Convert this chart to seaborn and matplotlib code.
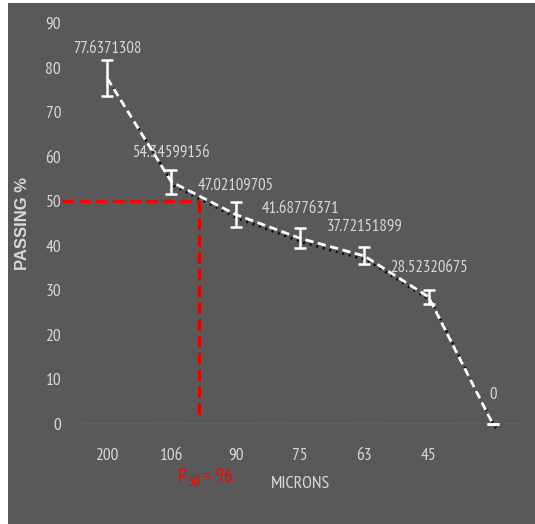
import matplotlib
matplotlib.use("Agg")
import matplotlib.pyplot as plt
import matplotlib.transforms as mtransforms
from matplotlib import font_manager
import seaborn as sns
import pandas as pd

# Sieve analysis: cumulative passing per screen size
sizes = ["200", "106", "90", "75", "63", "45", ""]
passing = [77.6371308, 54.34599156, 47.02109705, 41.68776371, 37.72151899, 28.52320675, 0.0]
errors = [4.0, 2.7, 2.7, 2.2, 1.9, 1.6, 0.0]
value_labels = ["77.6371308", "54.34599156", "47.02109705", "41.68776371",
                "37.72151899", "28.52320675", "0"]
p50_value = 96
p50_level = 50
p50_pos = 1.435  # position of the P50 size along the categorical size axis
y_ticks = [0, 10, 20, 30, 40, 50, 60, 70, 80, 90]

df = pd.DataFrame({"pos": range(len(sizes)), "passing": passing})

sns.set_theme(style="dark")
installed = {f.name for f in font_manager.fontManager.ttflist}
narrow_candidates = ["Liberation Sans Narrow", "Arial Narrow", "PT Sans Narrow",
                     "Roboto Condensed", "Archivo Narrow", "Fira Sans Condensed",
                     "IBM Plex Sans Condensed", "Encode Sans Condensed",
                     "Sofia Sans Condensed", "Open Sans Condensed", "Carlito"]
narrow = next((n for n in narrow_candidates if n in installed), "DejaVu Sans")
wide = "Liberation Sans" if "Liberation Sans" in installed else "DejaVu Sans"
plt.rcParams["font.family"] = [narrow, "DejaVu Sans"]

BG = "#595959"
TXT = "#d9d9d9"
RED = "#ff0000"

fig = plt.figure(figsize=(5.35, 5.24), dpi=100, facecolor="white")
# dark panel with a thin white margin on the left and top
fig.patches.append(plt.Rectangle((8 / 535, 0), 1, 1 - 3 / 524, transform=fig.transFigure,
                                 facecolor=BG, edgecolor="none", zorder=-5))
ax = fig.add_axes([75 / 535, 1 - 424 / 524, 450 / 535, 401 / 524])
ax.set_facecolor(BG)
for s in ax.spines.values():
    s.set_visible(False)

# dotted trend shadow
shadow = mtransforms.offset_copy(ax.transData, fig=fig, x=2.0, y=-3.0, units="points")
ax.plot(df["pos"], df["passing"], color="black", linestyle=(0, (0.7, 2.0)),
        linewidth=1.8, transform=shadow, zorder=2, clip_on=False)

# main dashed curve
sns.lineplot(data=df, x="pos", y="passing", ax=ax, color="white", linewidth=2.0,
             zorder=3, clip_on=False)
ax.lines[-1].set_dashes((3.0, 1.6))

ax.errorbar(df["pos"], df["passing"], yerr=errors, fmt="none", ecolor="white",
            elinewidth=1.8, capsize=4, capthick=1.8, zorder=4, clip_on=False)

# zero baseline
ax.axhline(0, color="#c8c8c8", linestyle=(0, (1, 2)), linewidth=1.0, zorder=1)

# P50 guide lines
red_dash = (0, (3.8, 1.7))
ax.plot([-0.70, p50_pos], [p50_level, p50_level], color=RED, linewidth=2.2,
        linestyle=red_dash, clip_on=False, zorder=2)
ax.plot([p50_pos, p50_pos], [p50_level, 2], color="#e00000", linewidth=2.2,
        linestyle=red_dash, clip_on=False, zorder=2)

# P50 annotation: "P", subscript "50", then "= 96"
p_txt = ax.text(p50_pos - 0.33, -12.0, "P", color=RED, fontsize=14,
                ha="left", va="center", clip_on=False)
sub_txt = ax.annotate("50", xy=(1, 0.5), xycoords=p_txt, xytext=(0.4, -3.6),
                      textcoords="offset points", color=RED, fontsize=10.5,
                      ha="left", va="center", annotation_clip=False)
ax.annotate("= " + str(p50_value), xy=(1, 0.5), xycoords=sub_txt, xytext=(1.5, 3.6),
            textcoords="offset points", color=RED, fontsize=14,
            ha="left", va="center", annotation_clip=False)

# value labels
for x, y, lab in zip(df["pos"], passing, value_labels):
    ax.annotate(lab, (x, y), xytext=(0, 21), textcoords="offset points", ha="center",
                va="center", color=TXT, fontsize=12, annotation_clip=False)

ax.set_xlim(-0.5, len(sizes) - 0.5)
ax.set_ylim(0, 90)
ax.set_xticks(range(len(sizes)))
ax.set_xticklabels(sizes)
ax.set_yticks(y_ticks)
ax.tick_params(axis="x", length=0, pad=17, labelsize=12.5, labelcolor=TXT)
ax.tick_params(axis="y", length=0, pad=10, labelsize=12.5, labelcolor=TXT)
ax.grid(False)

ax.set_xlabel("MICRONS", color=TXT, fontsize=13, labelpad=9)
ax.set_ylabel("PASSING %", color=TXT, fontsize=12, fontweight="bold",
              family=[wide, "DejaVu Sans"], labelpad=11)

fig.savefig("out.png", dpi=100, facecolor=fig.get_facecolor())
